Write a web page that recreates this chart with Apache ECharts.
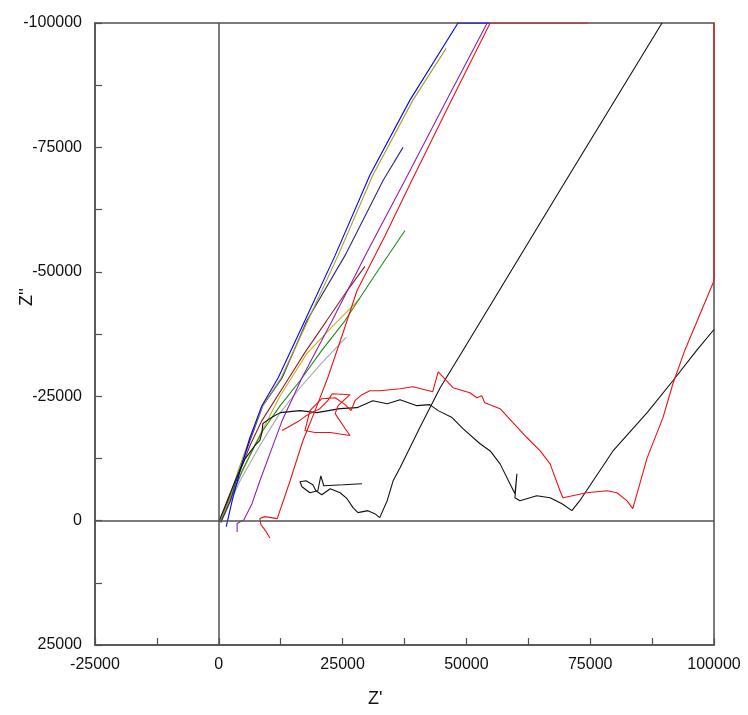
<!DOCTYPE html>
<html>
<head>
<meta charset="utf-8">
<script src="https://cdn.jsdelivr.net/npm/echarts@6/dist/echarts.min.js"></script>
<style>
html,body{margin:0;padding:0;background:#fff;}
#chart{width:748px;height:715px;}
</style>
</head>
<body>
<div id="chart"></div>
<script>
// Axis ticks
const xTicks = [-25000, 0, 25000, 50000, 75000, 100000];
const yTicks = [-100000, -75000, -50000, -25000, 0, 25000];

// Series data [Z', Z'']
const blueData = [[1500,1200],[2700,-4000],[4300,-10000],[6300,-16700],[8700,-23100],[12000,-28700],[17400,-40200],[23500,-53300],[30500,-69400],[38600,-84500],[48300,-100000],[54800,-100000]];
const oliveData = [[200,200],[2100,-4000],[3900,-10000],[6100,-16100],[8900,-23100],[12600,-28700],[18000,-40200],[24100,-53300],[31100,-69400],[39200,-84500],[45900,-94900]];
const navyData = [[400,400],[2300,-4000],[4100,-10000],[6300,-16100],[8900,-23100],[12800,-28700],[17800,-40200],[25500,-53300],[33200,-68400],[37200,-75000]];
const purpleData = [[3700,2300],[3700,600],[5100,-200],[6700,-3400],[8300,-8000],[10300,-13400],[12800,-20100],[16800,-28700],[22900,-40200],[30100,-54300],[37600,-68400],[45700,-83900],[54200,-100000]];
const redAData = [[10300,3500],[9500,2100],[8500,800],[8300,-400],[9300,-800],[11800,-400],[14400,-8000],[17000,-16100],[19600,-22500],[22000,-28700],[24900,-37200],[27900,-46200],[33600,-57300],[39000,-68400],[46700,-83900],[54800,-100000],[74500,-100000]];
const maroonData = [[200,200],[2300,-5000],[4300,-10000],[6300,-15100],[8700,-20100],[13800,-28100],[17400,-33800],[21800,-40200],[25500,-45600],[29500,-51100]];
const greenData = [[400,200],[2300,-4000],[4700,-10000],[7300,-15100],[8900,-18100],[12400,-23100],[16400,-28100],[20800,-34200],[25500,-40200],[31500,-49300],[37600,-58300]];
const grayData = [[400,400],[4300,-8000],[8300,-15100],[12400,-21700],[16400,-26700],[20800,-31700],[25700,-36800]];
const yellowData = [[400,200],[3900,-8000],[7700,-16100],[12400,-25100],[17800,-33600],[23100,-39200],[28500,-44600]];
const blackAData = [[0,200],[1300,-3000],[3300,-8000],[5300,-12400],[7300,-15100],[8300,-16100],[8700,-17700],[8900,-19500],[10300,-20500],[12400,-21700],[16400,-22100],[19800,-21700],[24500,-22500],[27900,-22700],[31100,-24100],[34000,-23500],[36600,-24300],[40000,-23100],[42600,-23300],[44300,-22100],[47100,-20700],[49300,-18500],[52700,-15500],[54800,-14000],[56800,-11400],[59200,-6600],[59800,-5400],[60200,-9400],[59800,-4600],[60800,-4000],[64200,-5000],[66900,-4600],[69300,-3400],[71300,-2000],[72900,-4000],[79600,-14000],[86500,-21700],[91700,-28100],[96500,-34200],[100000,-38400]];
const blackBData = [[28900,-7400],[25100,-7200],[21200,-7000],[20600,-9000],[20000,-6000],[18400,-5600],[16800,-6800],[16400,-7800],[17600,-8000],[19000,-7200],[19600,-6000],[20800,-5200],[22500,-6400],[24500,-5600],[25900,-4400],[27100,-2600],[28100,-1600],[30100,-2000],[31500,-1400],[32500,-600],[34000,-4000],[35200,-8000],[36600,-10600],[40600,-18700],[44700,-26700],[49300,-34200],[68900,-66400],[89500,-100000]];
const redBData = [[12800,-18100],[16000,-19900],[17400,-20900],[18800,-21700],[20400,-22500],[22000,-24100],[22900,-25500],[26500,-25300],[24100,-23100],[23500,-21500],[25500,-18500],[26500,-17100],[22500,-17700],[19400,-17700],[17400,-18100],[18400,-22100],[20800,-24500],[23500,-24700],[25500,-23300],[26700,-22100],[27500,-24100],[28900,-25300],[30500,-26100],[32500,-26100],[36600,-26500],[39200,-26900],[43200,-25900],[44300,-29900],[47300,-26700],[50700,-25700],[52100,-24700],[53100,-25100],[53700,-23700],[56800,-22500],[59400,-19700],[62200,-16700],[64900,-14000],[66900,-11400],[68900,-6000],[69500,-4600],[74300,-5600],[78400,-6000],[80400,-5600],[82400,-4000],[83600,-2400],[86500,-12600],[89700,-20700],[91700,-27500],[94100,-34200],[100000,-48200],[100000,-100000]];

const seriesDefs = [
  {name:'gray', data:grayData, color:'#a8a8a8'},
  {name:'yellow', data:yellowData, color:'#c8b020'},
  {name:'maroon', data:maroonData, color:'#902020'},
  {name:'green', data:greenData, color:'#208a20'},
  {name:'purple', data:purpleData, color:'#9020b0'},
  {name:'navy', data:navyData, color:'#2a2a7a'},
  {name:'olive', data:oliveData, color:'#a0a020'},
  {name:'blue', data:blueData, color:'#0000ff'},
  {name:'blackA', data:blackAData, color:'#111111'},
  {name:'blackB', data:blackBData, color:'#111111'},
  {name:'redB', data:redBData, color:'#ee1111'},
  {name:'redA', data:redAData, color:'#ee1111'}
];

const chart = echarts.init(document.getElementById('chart'), null, {renderer:'canvas'});
const axisColor = '#505050';
const labelStyle = {color:'#111', fontFamily:'Liberation Sans, Arial, sans-serif', fontSize:16};

const series = seriesDefs.map(s => ({
  type:'line', name:s.name, data:s.data, showSymbol:false, symbol:'none',
  clip:true, silent:true, animation:false,
  lineStyle:{color:s.color, width:1.1}
}));
series.unshift({
  type:'line', data:[], silent:true, animation:false,
  markLine:{silent:true, symbol:'none', animation:false, label:{show:false},
    lineStyle:{color:axisColor, width:1.5, type:'solid'},
    data:[{xAxis:0},{yAxis:0}]}
});

chart.setOption({
  animation:false,
  backgroundColor:'#fff',
  grid:{left:95, right:34, top:23, bottom:70, show:true, borderColor:axisColor, borderWidth:1.5, backgroundColor:'#fff'},
  xAxis:{
    type:'value', min:-25000, max:100000, interval:12500,
    axisLine:{show:true, onZero:false, lineStyle:{color:axisColor, width:1.5}},
    axisTick:{show:true, inside:true, length:7, lineStyle:{color:axisColor, width:1.2}},
    splitLine:{show:false},
    axisLabel:{...labelStyle, margin:12, formatter:v => xTicks.includes(v) ? String(v) : ''}
  },
  yAxis:{
    type:'value', inverse:true, min:-100000, max:25000, interval:12500,
    axisLine:{show:true, onZero:false, lineStyle:{color:axisColor, width:1.5}},
    axisTick:{show:true, inside:true, length:7, lineStyle:{color:axisColor, width:1.2}},
    splitLine:{show:false},
    axisLabel:{...labelStyle, margin:13, formatter:v => yTicks.includes(v) ? String(v) : ''}
  },
  graphic:[
    {type:'text', left:368, top:690, style:{text:"Z'", font:'18px Liberation Sans, Arial, sans-serif', fill:'#111'}},
    {type:'text', x:18, y:306, rotation:Math.PI/2, style:{text:"Z''", font:'18px Liberation Sans, Arial, sans-serif', fill:'#111'}}
  ],
  series:series
});
</script>
</body>
</html>
